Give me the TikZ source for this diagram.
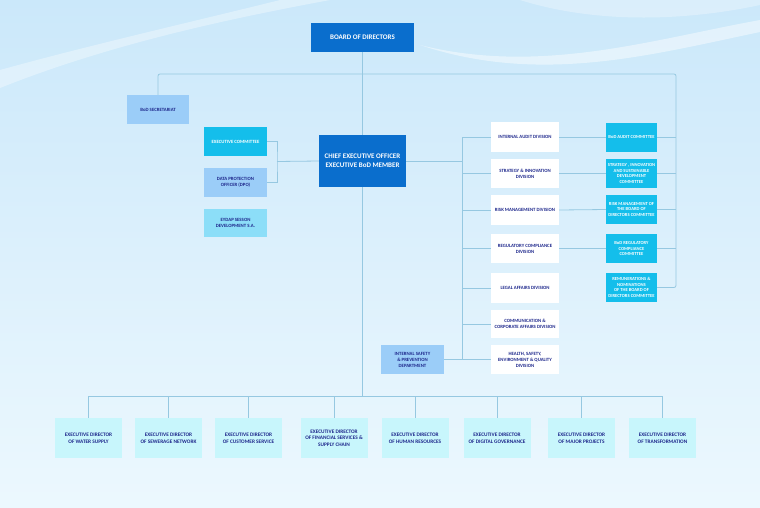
\documentclass[tikz,border=0pt]{standalone}
\usepackage{fontspec}
\setmainfont{Carlito}
\definecolor{bgtop}{RGB}{203,232,250}
\definecolor{bgmid}{RGB}{220,240,252}
\definecolor{bgbot}{RGB}{236,248,254}
\definecolor{dkbox}{RGB}{10,110,205}
\definecolor{ltbox}{RGB}{155,205,248}
\definecolor{cybox}{RGB}{20,190,235}
\definecolor{eybox}{RGB}{140,222,248}
\definecolor{exbox}{RGB}{200,246,252}
\definecolor{navy}{RGB}{30,40,140}
\definecolor{conn}{RGB}{150,200,225}
\tikzset{
  base/.style={rectangle,inner sep=0pt,align=center,font=\bfseries},
  bigbox/.style={base,fill=dkbox,text=white,font=\fontsize{7}{8.6}\selectfont\bfseries},
  ltb/.style={base,fill=ltbox,text=navy,font=\fontsize{4.8}{6}\selectfont\bfseries},
  cyb/.style={base,fill=cybox,text=white,font=\fontsize{4.6}{5.6}\selectfont\bfseries},
  eyb/.style={base,fill=eybox,text=navy,font=\fontsize{4.8}{6}\selectfont\bfseries},
  divb/.style={base,fill=white,text=navy,minimum width=68pt,minimum height=29.5pt,font=\fontsize{4.8}{6}\selectfont\bfseries},
  comb/.style={cyb,minimum width=51pt,minimum height=29pt},
  exb/.style={base,fill=exbox,text=navy,minimum width=67pt,minimum height=40pt,font=\fontsize{5.3}{6.6}\selectfont\bfseries},
  link/.style={draw=conn,line width=0.8pt}
}
\begin{document}
\begin{tikzpicture}[x=1pt,y=-1pt]
\shade[top color=bgtop,bottom color=bgbot,middle color=bgmid] (0,0) rectangle (760,507);
\useasboundingbox (0,0) rectangle (760,507);
% swooshes
\fill[white,opacity=0.35] (0,88) .. controls (120,40) and (250,15) .. (330,0) -- (280,0) .. controls (200,20) and (90,45) .. (0,70) -- cycle;
\fill[white,opacity=0.45] (420,45) .. controls (540,75) and (650,40) .. (760,20) -- (760,32) .. controls (650,55) and (540,85) .. (420,45) -- cycle;
\fill[white,opacity=0.3] (520,0) .. controls (600,25) and (690,20) .. (760,5) -- (760,0) -- cycle;

% nodes
\node[bigbox,minimum width=103pt,minimum height=29pt] (bod) at (362.5,37.5) {BOARD OF DIRECTORS};
\node[ltb,minimum width=62pt,minimum height=29pt] (sec) at (158,109.5) {BoD SECRETARIAT};
\node[cyb,minimum width=63pt,minimum height=29pt,font=\fontsize{4.8}{6}\selectfont\bfseries] (exc) at (235.5,141.5) {EXECUTIVE COMMITTEE};
\node[ltb,minimum width=63pt,minimum height=29pt] (dpo) at (235.5,182.5) {DATA PROTECTION\\OFFICER (DPO)};
\node[eyb,minimum width=63pt,minimum height=28pt] (eyd) at (235.5,223) {EYDAP SESSON\\DEVELOPMENT S.A.};
\node[bigbox,minimum width=87pt,minimum height=52pt] (ceo) at (362.5,161) {CHIEF EXECUTIVE OFFICER\\EXECUTIVE BoD MEMBER};

\node[divb] (d1) at (525,137) {INTERNAL AUDIT DIVISION};
\node[divb] (d2) at (525,173.5) {STRATEGY \& INNOVATION\\DIVISION};
\node[divb] (d3) at (525,210) {RISK MANAGEMENT DIVISION};
\node[divb] (d4) at (525,248.5) {REGULATORY COMPLIANCE\\DIVISION};
\node[divb] (d5) at (525,288) {LEGAL AFFAIRS DIVISION};
\node[divb,minimum height=28pt] (d6) at (525,324) {COMMUNICATION \&\\CORPORATE AFFAIRS DIVISION};
\node[divb] (d7) at (525,359.5) {HEALTH, SAFETY,\\ENVIRONMENT \& QUALITY\\DIVISION};
\node[ltb,minimum width=63pt,minimum height=29pt] (isp) at (412.5,359.5) {INTERNAL SAFETY\\\& PREVENTION\\DEPARTMENT};

\node[comb] (c1) at (631.5,137) {BoD AUDIT COMMITTEE};
\node[comb] (c2) at (631.5,173.5) {STRATEGY , INNOVATION\\AND SUSTAINABLE\\DEVELOPMENT\\COMMITTEE};
\node[comb] (c3) at (631.5,209.5) {RISK MANAGEMENT OF\\THE BOARD OF\\DIRECTORS COMMITTEE};
\node[comb] (c4) at (631.5,248.5) {BoD REGULATORY\\COMPLIANCE\\COMMITTEE};
\node[comb] (c5) at (631.5,287.5) {REMUNERATIONS \&\\NOMINATIONS\\OF THE BOARD OF\\DIRECTORS COMMITTEE};

\node[exb] (e1) at (88.5,438) {EXECUTIVE DIRECTOR\\OF WATER SUPPLY};
\node[exb] (e2) at (168.5,438) {EXECUTIVE DIRECTOR\\OF SEWERAGE NETWORK};
\node[exb] (e3) at (248.5,438) {EXECUTIVE DIRECTOR\\OF CUSTOMER SERVICE};
\node[exb] (e4) at (334,438) {EXECUTIVE DIRECTOR\\OF FINANCIAL SERVICES \&\\SUPPLY CHAIN};
\node[exb] (e5) at (415,438) {EXECUTIVE DIRECTOR\\OF HUMAN RESOURCES};
\node[exb] (e6) at (497,438) {EXECUTIVE DIRECTOR\\OF DIGITAL GOVERNANCE};
\node[exb] (e7) at (581.5,438) {EXECUTIVE DIRECTOR\\OF MAJOR PROJECTS};
\node[exb] (e8) at (662.5,438) {EXECUTIVE DIRECTOR\\OF TRANSFORMATION};

% junction coordinates
\coordinate (bus) at (362.5,396);
\coordinate (tr) at (676,74);
\coordinate (spine) at (462,161);
\coordinate (br) at (277,161.5);

% connectors (behind nodes)
\begin{scope}[on background layer/.style={}]
\end{scope}
\draw[link] (bod.south) -- (ceo.north);
\draw[link] (ceo.south) -- (bus);
\draw[link,rounded corners=2pt] (sec.north) |- (tr) |- (c5.east);
\foreach \i in {1,2,3,4} {\draw[link] (c\i.east) -- (c\i.east -| tr);}
\foreach \i in {1,2,3,4} {\draw[link] (d\i.east) -- (c\i.west);}
\draw[link] (ceo.east) -- (spine);
\draw[link] (spine |- d1.west) -- (spine |- d7.west);
\foreach \i in {1,...,7} {\draw[link] (spine |- d\i.west) -- (d\i.west);}
\draw[link] (isp.east) -- (isp.east -| spine);
\draw[link] (exc.east) -| (br) |- (dpo.east);
\draw[link] (br) -- (ceo.west);
\draw[link] (e1.north |- bus) -- (e8.north |- bus);
\foreach \i in {1,...,8} {\draw[link] (e\i.north |- bus) -- (e\i.north);}
\end{tikzpicture}
\end{document}
